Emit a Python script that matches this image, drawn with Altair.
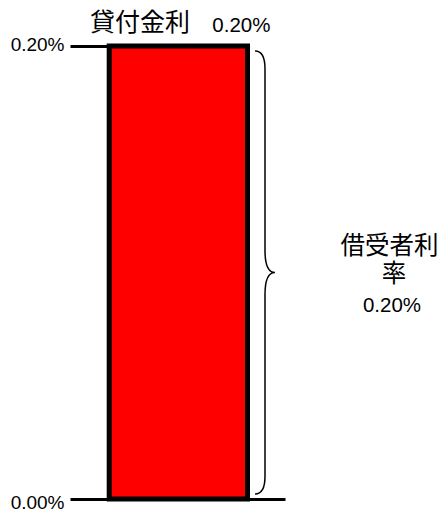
import altair as alt
import pandas as pd

# ---- data ----
categories = ["貸付金利"]
rates = [0.002]
axis_ticks = [0.0, 0.002]
brace_lines = ["借受者利", "率"]

df = pd.DataFrame({"cat": categories, "rate": rates})
df["rate_label"] = df["rate"].map(lambda v: f"{v:.2%}")
df["mid"] = df["rate"] / 2

LATIN = "Liberation Sans"
CJK = "Noto Sans CJK JP"

W, H = 178, 453

x_enc = alt.X(
    "cat:N",
    scale=alt.Scale(paddingInner=0, paddingOuter=0.1435, align=0.0554),
    axis=alt.Axis(title=None, labels=False, ticks=False, domain=True,
                  domainColor="black", domainWidth=3),
)
y_scale = alt.Scale(domain=[0, 0.002], nice=False, zero=True)
y_enc = alt.Y(
    "rate:Q",
    scale=y_scale,
    axis=alt.Axis(
        title=None, values=axis_ticks, format=".2%", domain=False, grid=False,
        tickSize=37, tickWidth=3, tickColor="black",
        labelFont=LATIN, labelFontSize=19, labelColor="black", labelPadding=6,
        labelOffset={"condition": {"test": "datum.value > 0", "value": -2}, "value": 3},
    ),
)

base = alt.Chart(df)

bar = base.mark_bar(color="#FF0000", stroke="black", strokeWidth=5,
                    strokeJoin="miter").encode(x=x_enc, y=y_enc)

title_cjk = base.mark_text(font=CJK, fontSize=25, align="center",
                           baseline="alphabetic", dx=-38.4, dy=-15,
                           color="black").encode(
    x=alt.X("cat:N"), y=alt.Y("rate:Q"), text="cat:N")
title_val = base.mark_text(font=LATIN, fontSize=20.5, align="center",
                           baseline="alphabetic", dx=63, dy=-14.5,
                           color="black").encode(
    x=alt.X("cat:N"), y=alt.Y("rate:Q"), text="rate_label:N")

brace_path = ("M-0.045,-1 Q0,-1 0,-0.92 L0,-0.1 Q0,0 0.045,0 "
              "Q0,0 0,0.1 L0,0.92 Q0,1 -0.045,1")
brace = base.mark_point(shape=brace_path, size=443 ** 2, filled=False,
                        stroke="black", strokeWidth=1.5, opacity=1).encode(
    x=alt.value(158), y=alt.Y("mid:Q"))

lab1 = base.mark_text(font=CJK, fontSize=24.5, align="center",
                      baseline="alphabetic", dy=-19, color="black",
                      text=brace_lines[0]).encode(
    x=alt.value(282.5), y=alt.Y("mid:Q"))
lab2 = base.mark_text(font=CJK, fontSize=24.5, align="center",
                      baseline="alphabetic", dy=9.3, color="black",
                      text=brace_lines[1]).encode(
    x=alt.value(287), y=alt.Y("mid:Q"))
lab3 = base.mark_text(font=LATIN, fontSize=20.5, align="center",
                      baseline="alphabetic", dy=39, color="black").encode(
    x=alt.value(285), y=alt.Y("mid:Q"), text="rate_label:N")

chart = alt.layer(bar, title_cjk, title_val, brace, lab1, lab2, lab3).properties(
    width=W, height=H,
    background="white",
    autosize=alt.AutoSizeParams(type="none"),
    padding={"left": 99, "top": 38, "right": 154, "bottom": 12},
).configure_view(stroke=None)

chart.save("out.html", embed_options={"renderer": "svg", "actions": False})
